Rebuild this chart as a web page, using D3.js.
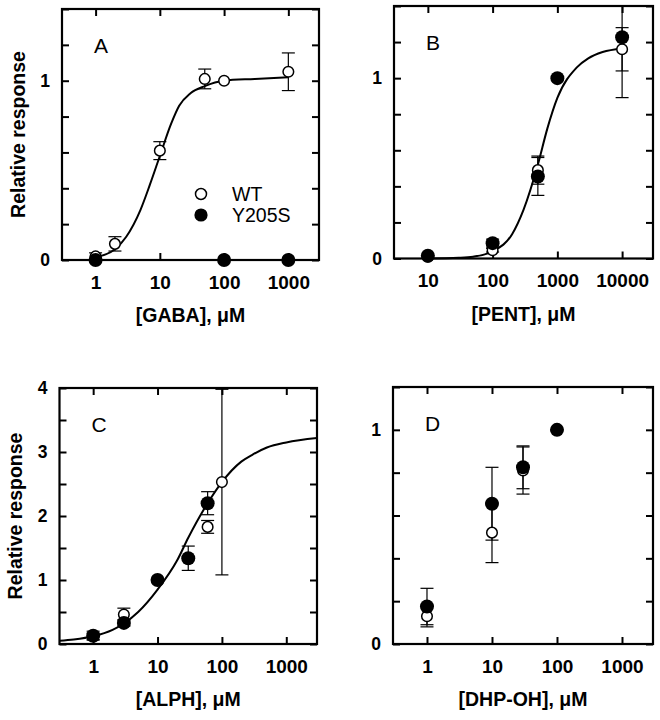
<!DOCTYPE html>
<html><head><meta charset="utf-8">
<script src="https://cdn.jsdelivr.net/npm/d3@7"></script>
<style>body{margin:0;background:#fff}</style>
</head><body>
<svg id="chart" width="660" height="720"></svg>
<script>
// ================= DATA =================
// Panel A: GABA
const gabaWT_x   = [1, 2, 10, 50, 100, 1000];
const gabaWT_y   = [0.02, 0.09, 0.61, 1.01, 1.0, 1.05];
const gabaWT_err = [0.02, 0.04, 0.05, 0.055, 0, 0.105];
const gabaMut_x   = [1, 100, 1000];
const gabaMut_y   = [0, 0, 0];
const gabaMut_err = [0, 0, 0];
const gabaFit_x = [1, 2, 3, 5, 7, 10, 15, 20, 30, 50, 100, 300, 1000];
const gabaFit_y = [0.015, 0.06, 0.13, 0.28, 0.42, 0.58, 0.76, 0.86, 0.93, 0.97, 1.0, 1.01, 1.02];

// Panel B: PENT
const pentWT_x   = [10, 100, 500, 10000];
const pentWT_y   = [0.01, 0.046, 0.49, 1.16];
const pentWT_err = [0, 0.01, 0.078, 0.12];
const pentMut_x   = [10, 100, 500, 1000, 10000];
const pentMut_y   = [0.015, 0.085, 0.455, 1.0, 1.227];
const pentMut_err = [0, 0.022, 0.105, 0, 0.335];
const pentFit_x = [10, 30, 50, 100, 200, 300, 500, 700, 1000, 2000, 3000, 5000, 10000];
const pentFit_y = [0.0, 0.004, 0.01, 0.04, 0.135, 0.27, 0.52, 0.72, 0.89, 1.06, 1.11, 1.145, 1.165];

// Panel C: ALPH
const alphWT_x   = [1, 3, 60, 100];
const alphWT_y   = [0.12, 0.46, 1.83, 2.53];
const alphWT_err = [0.05, 0.1, 0.1, 1.45];
const alphMut_x   = [1, 3, 10, 30, 60];
const alphMut_y   = [0.13, 0.33, 1.0, 1.34, 2.2];
const alphMut_err = [0.07, 0.05, 0, 0.19, 0.18];
const alphFit_x = [0.3, 0.5, 1, 2, 3, 5, 10, 20, 30, 60, 100, 200, 300, 500, 1000, 3000];
const alphFit_y = [0.05, 0.07, 0.12, 0.22, 0.32, 0.5, 0.85, 1.3, 1.66, 2.2, 2.53, 2.85, 2.96, 3.07, 3.15, 3.22];

// Panel D: DHP-OH
const dhpWT_x   = [1, 10, 30];
const dhpWT_y   = [0.13, 0.52, 0.81];
const dhpWT_err = [0.05, 0.14, 0.11];
const dhpMut_x   = [1, 10, 30, 100];
const dhpMut_y   = [0.175, 0.655, 0.825, 1.0];
const dhpMut_err = [0.085, 0.17, 0.1, 0];

// Tick values / labels
const xTicksA = [1, 10, 100, 1000];
const xTicksB = [10, 100, 1000, 10000];
const yTicksFine = [0, 0.2, 0.4, 0.6, 0.8, 1.0, 1.2, 1.4];
const yTicksD = [0, 0.2, 0.4, 0.6, 0.8, 1.0, 1.2];
const yTicksC = [0, 0.5, 1, 1.5, 2, 2.5, 3, 3.5, 4];
const panelLetters = ["A", "B", "C", "D"];
const xTitles = ["[GABA], \u03BCM", "[PENT], \u03BCM", "[ALPH], \u03BCM", "[DHP-OH], \u03BCM"];
const yTitle = "Relative response";
const legendNames = ["WT", "Y205S"];

// ================= LAYOUT =================
const FONT = "'Liberation Sans', Arial, Helvetica, sans-serif";
const svg = d3.select("#chart");

function zip(xs, ys, es) { return xs.map((x, i) => ({x, y: ys[i], e: es ? es[i] : 0})); }

const panels = [
  {letter: panelLetters[0], box: [62, 319, 9, 260], xd: [0.3, 3000], yd: [0, 1.4], xt: xTicksA, yt: yTicksFine,
   wt: zip(gabaWT_x, gabaWT_y, gabaWT_err), mut: zip(gabaMut_x, gabaMut_y, gabaMut_err),
   fit: zip(gabaFit_x, gabaFit_y), title: xTitles[0], ytitle: true, ytx: 25, legend: true},
  {letter: panelLetters[1], box: [394, 653, 6, 258.5], xd: [3, 30000], yd: [0, 1.4], xt: xTicksB, yt: yTicksFine,
   wt: zip(pentWT_x, pentWT_y, pentWT_err), mut: zip(pentMut_x, pentMut_y, pentMut_err),
   fit: zip(pentFit_x, pentFit_y), title: xTitles[1], ytitle: false},
  {letter: panelLetters[2], box: [59.5, 317, 388, 644], xd: [0.3, 3000], yd: [0, 4], xt: xTicksA, yt: yTicksC,
   wt: zip(alphWT_x, alphWT_y, alphWT_err), mut: zip(alphMut_x, alphMut_y, alphMut_err),
   fit: zip(alphFit_x, alphFit_y), title: xTitles[2], ytitle: true, ytx: 22},
  {letter: panelLetters[3], box: [393, 653, 387, 644], xd: [0.3, 3000], yd: [0, 1.2], xt: xTicksA, yt: yTicksD,
   wt: zip(dhpWT_x, dhpWT_y, dhpWT_err), mut: zip(dhpMut_x, dhpMut_y, dhpMut_err),
   fit: null, title: xTitles[3], ytitle: false}
];

panels.forEach(p => {
  const [L, R, T, B] = p.box;
  const x = d3.scaleLog().domain(p.xd).range([L, R]);
  const y = d3.scaleLinear().domain(p.yd).range([B, T]);
  const g = svg.append("g");
  const fmtY = d => Number.isInteger(d) ? String(d) : "";

  const styleAxis = size => sel => {
    sel.select(".domain").remove();
    sel.selectAll(".tick line").attr("stroke", "#000").attr("stroke-width", 2);
    sel.selectAll(".tick text").attr("font-family", FONT).attr("font-weight", "bold")
       .attr("font-size", size).attr("fill", "#000");
  };
  g.append("g").attr("transform", `translate(0,${B})`)
    .call(d3.axisBottom(x).tickValues(p.xt).tickFormat(d3.format("d")).tickSize(-7).tickPadding(15.5))
    .call(styleAxis(19));
  g.append("g").attr("transform", `translate(0,${T})`)
    .call(d3.axisTop(x).tickValues(p.xt).tickFormat("").tickSize(-7))
    .call(styleAxis(19));
  g.append("g").attr("transform", `translate(${L},0)`)
    .call(d3.axisLeft(y).tickValues(p.yt).tickFormat(fmtY).tickSize(-7).tickPadding(12))
    .call(styleAxis(17.5));
  g.append("g").attr("transform", `translate(${R},0)`)
    .call(d3.axisRight(y).tickValues(p.yt).tickFormat("").tickSize(-7))
    .call(styleAxis(17.5));

  // frame
  g.append("rect").attr("x", L).attr("y", T).attr("width", R - L).attr("height", B - T)
    .attr("fill", "none").attr("stroke", "#000").attr("stroke-width", 2.2);

  // fit curve
  if (p.fit) {
    const line = d3.line().x(d => x(d.x)).y(d => y(d.y)).curve(d3.curveMonotoneX);
    g.append("path").datum(p.fit).attr("d", line)
      .attr("fill", "none").attr("stroke", "#000").attr("stroke-width", 2);
  }

  // error bars
  const capW = 6.5;
  const errs = p.wt.concat(p.mut).filter(d => d.e > 0);
  errs.forEach(d => {
    const cx = x(d.x);
    const hiV = d.y + d.e, loV = d.y - d.e;
    const yHi = y(Math.min(hiV, p.yd[1])), yLo = y(Math.max(loV, p.yd[0]));
    g.append("line").attr("x1", cx).attr("x2", cx).attr("y1", yHi).attr("y2", yLo)
      .attr("stroke", "#000").attr("stroke-width", 1.2);
    if (hiV <= p.yd[1]) g.append("line").attr("x1", cx - capW).attr("x2", cx + capW)
      .attr("y1", yHi).attr("y2", yHi).attr("stroke", "#000").attr("stroke-width", 1.2);
    if (loV >= p.yd[0]) g.append("line").attr("x1", cx - capW).attr("x2", cx + capW)
      .attr("y1", yLo).attr("y2", yLo).attr("stroke", "#000").attr("stroke-width", 1.2);
  });

  // points
  g.selectAll(".wt").data(p.wt).enter().append("circle")
    .attr("cx", d => x(d.x)).attr("cy", d => y(d.y)).attr("r", 5.3)
    .attr("fill", "#fff").attr("stroke", "#000").attr("stroke-width", 1.5);
  g.selectAll(".mut").data(p.mut).enter().append("circle")
    .attr("cx", d => x(d.x)).attr("cy", d => y(d.y)).attr("r", 7)
    .attr("fill", "#000");

  // panel letter
  g.append("text").attr("x", L + 32).attr("y", T + 43.5).text(p.letter)
    .attr("font-family", FONT).attr("font-size", 21).attr("fill", "#000");

  // x title
  g.append("text").attr("x", (L + R) / 2).attr("y", B + 62).attr("text-anchor", "middle")
    .text(p.title).attr("font-family", FONT).attr("font-weight", "bold").attr("font-size", 19.5);

  // y title
  if (p.ytitle) {
    g.append("text").attr("transform", `translate(${p.ytx},${(T + B) / 2}) rotate(-90)`)
      .attr("text-anchor", "middle").text(yTitle)
      .attr("font-family", FONT).attr("font-weight", "bold").attr("font-size", 19.5);
  }

  // legend
  if (p.legend) {
    const lg = g.append("g");
    lg.append("circle").attr("cx", 201).attr("cy", 194).attr("r", 5.5)
      .attr("fill", "#fff").attr("stroke", "#000").attr("stroke-width", 1.5);
    lg.append("circle").attr("cx", 201).attr("cy", 215).attr("r", 6.6).attr("fill", "#000");
    lg.append("text").attr("x", 232).attr("y", 200.5).text(legendNames[0])
      .attr("font-family", FONT).attr("font-size", 19.5);
    lg.append("text").attr("x", 232).attr("y", 222).text(legendNames[1])
      .attr("font-family", FONT).attr("font-size", 19.5);
  }
});
</script>
</body></html>
